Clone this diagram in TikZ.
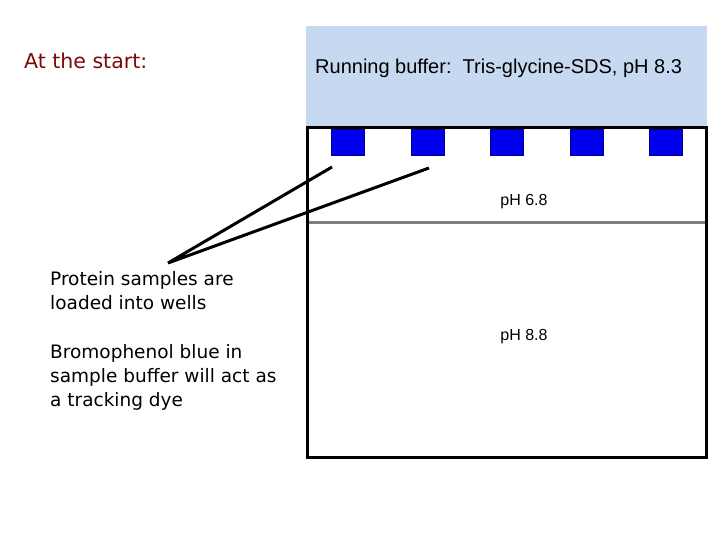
\documentclass[tikz,border=0pt]{standalone}
\usepackage{fontspec}
\setmainfont{DejaVu Sans}
\newfontfamily\arialfont{Liberation Sans}
\usetikzlibrary{positioning}
\definecolor{bufferblue}{HTML}{C6D9F1}
\definecolor{wellblue}{HTML}{0000F0}
\definecolor{titlered}{HTML}{7A0A0A}
\tikzset{
    gelfig/.style={x=1pt, y=-1pt, line join=miter},
    well/.style={draw=wellblue!55!black, fill=wellblue, minimum width=33pt, minimum height=26pt, inner sep=0pt},
    note/.style={align=left, anchor=north west, inner sep=0pt, font=\fontsize{18.5}{24}\selectfont},
    phlabel/.style={font=\arialfont\fontsize{16}{18}\selectfont},
    pointer/.style={line width=3pt},
}
\begin{document}
\begin{tikzpicture}[gelfig]
    \useasboundingbox (0,0) rectangle (720,540);
    % running buffer on top of the gel
    \fill[bufferblue] (306,26) rectangle (707,128);
    \node[anchor=west, inner sep=0pt, font=\arialfont\fontsize{20}{22}\selectfont] (buffer) at (315,68)
        {Running buffer:\ \ Tris-glycine-SDS, pH 8.3};

    % gel and stacking/resolving boundary
    \draw[gray, line width=3pt] (307,223) -- (706,223);
    \draw[line width=3pt] (307,128) rectangle (706,457);
    \foreach \i in {0,...,4}
        \node[well, anchor=north west] (well\i) at ({331+79.5*\i},129) {};
    \node[phlabel] (stacking)  at (524,202) {pH 6.8};
    \node[phlabel] (resolving) at (524,337) {pH 8.8};

    % labels
    \node[note, text=titlered, font=\fontsize{20.5}{24}\selectfont] (start) at (24,53) {At the start:};
    \node[note] (samples) at (50,271) {Protein samples are\\loaded into wells};
    \node[note] (dye)     at (50,344) {Bromophenol blue in\\sample buffer will act as\\a tracking dye};

    \coordinate (tip)  at (168,263);
    \coordinate (end1) at (332,167);
    \coordinate (end2) at (429,168);
    \draw[pointer] (end1) -- (tip) -- (end2);
\end{tikzpicture}
\end{document}
